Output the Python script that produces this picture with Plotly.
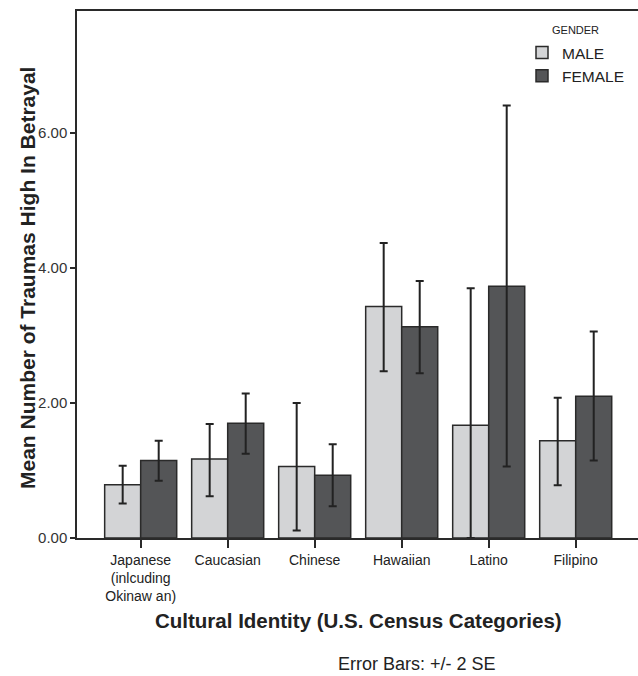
import plotly.graph_objects as go

categories = ["Japanese<br>(inlcuding<br>Okinaw an)", "Caucasian", "Chinese", "Hawaiian", "Latino", "Filipino"]
male_mean = [0.79, 1.17, 1.06, 3.43, 1.67, 1.44]
male_hi = [1.07, 1.69, 2.00, 4.37, 3.70, 2.08]
male_lo = [0.51, 0.62, 0.11, 2.47, 0.00, 0.78]
female_mean = [1.15, 1.70, 0.93, 3.13, 3.73, 2.10]
female_hi = [1.44, 2.14, 1.39, 3.81, 6.41, 3.06]
female_lo = [0.85, 1.25, 0.47, 2.44, 1.06, 1.15]
y_ticks = [0, 2, 4, 6]
y_ticklabels = ["0.00", "2.00", "4.00", "6.00"]

FONT = "Liberation Sans, Arial, sans-serif"
EDGE = "#2a2a2a"

def err(mean, hi, lo):
    return dict(type="data", symmetric=False,
                array=[h - m for h, m in zip(hi, mean)],
                arrayminus=[m - l for m, l in zip(mean, lo)],
                color="#222222", thickness=2, width=4)

fig = go.Figure()
fig.add_trace(go.Bar(name="MALE", x=categories, y=male_mean,
                     marker=dict(color="#d3d4d6", line=dict(color=EDGE, width=1.5)),
                     error_y=err(male_mean, male_hi, male_lo)))
fig.add_trace(go.Bar(name="FEMALE", x=categories, y=female_mean,
                     marker=dict(color="#545557", line=dict(color=EDGE, width=1.5)),
                     error_y=err(female_mean, female_hi, female_lo)))

W, H = 638, 676
L, T, B = 77, 11, 138
PW, PH = W - L, H - T - B

def px(x):
    return (x - L) / PW

def py(y):
    return 1 - (y - T) / PH

fig.update_layout(
    width=W, height=H,
    margin=dict(l=L, r=0, t=T, b=B),
    paper_bgcolor="white", plot_bgcolor="white",
    barmode="group", bargap=0.172, bargroupgap=0,
    font=dict(family=FONT, color="#222222", size=14),
    showlegend=True,
    legend=dict(x=px(522), y=py(36), xanchor="left", yanchor="top",
                font=dict(size=15.5, color="#222222"),
                bgcolor="rgba(0,0,0,0)", tracegroupgap=0),
    xaxis=dict(type="category", range=[-0.732, 5.716],
               showline=True, linecolor=EDGE, linewidth=1.5, mirror=True,
               ticks="outside", ticklen=8, tickcolor=EDGE, tickwidth=1.5,
               tickfont=dict(size=14, color="#222222"), showgrid=False),
    yaxis=dict(range=[0, 7.81], tickvals=y_ticks, ticktext=y_ticklabels,
               showline=True, linecolor=EDGE, linewidth=1.5,
               ticks="outside", ticklen=5, tickcolor=EDGE, tickwidth=1.5,
               tickfont=dict(size=15, color="#333333"), showgrid=False,
               zeroline=False),
    annotations=[
        dict(text="GENDER", xref="paper", yref="paper", x=px(575), y=py(30),
             xanchor="center", yanchor="middle", showarrow=False,
             font=dict(size=11, color="#222222")),
        dict(text="<b>Mean Number of Traumas High In Betrayal</b>", xref="paper", yref="paper",
             x=px(27), y=py(278), textangle=-90,
             xanchor="center", yanchor="middle", showarrow=False,
             font=dict(size=21, color="#222222")),
        dict(text="<b>Cultural Identity (U.S. Census Categories)</b>", xref="paper", yref="paper",
             x=px(358), y=py(620),
             xanchor="center", yanchor="middle", showarrow=False,
             font=dict(size=20.5, color="#222222")),
        dict(text="Error Bars: +/- 2 SE", xref="paper", yref="paper",
             x=px(417), y=py(664),
             xanchor="center", yanchor="middle", showarrow=False,
             font=dict(size=18, color="#222222")),
    ],
)

fig.write_html("out.html", config={"displayModeBar": False},
               post_script="document.body.style.margin='0';")
